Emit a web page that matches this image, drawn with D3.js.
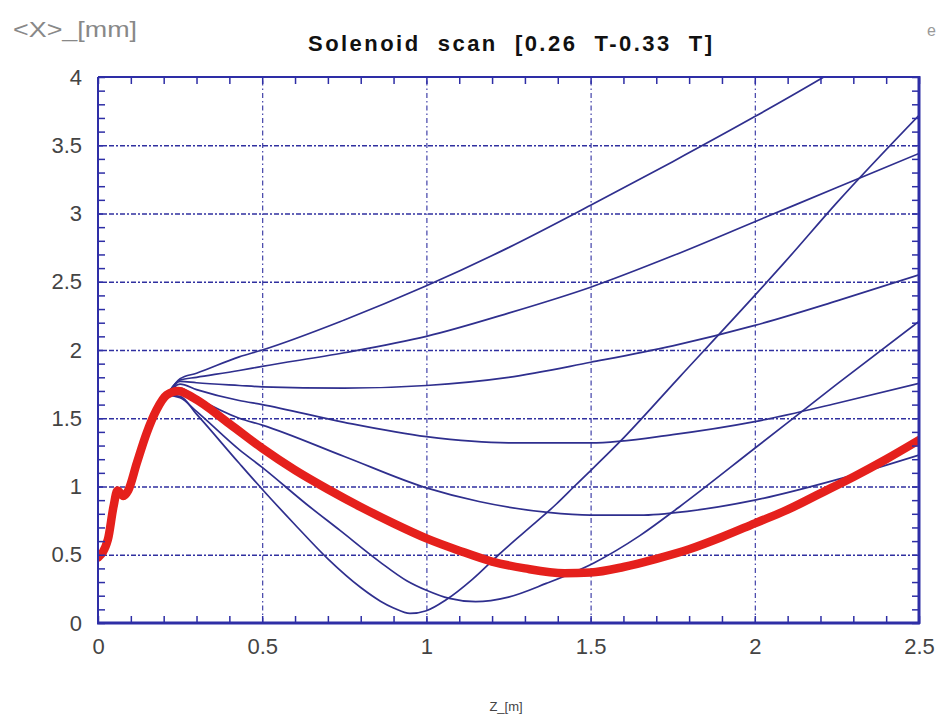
<!DOCTYPE html>
<html>
<head>
<meta charset="utf-8">
<script src="https://cdn.jsdelivr.net/npm/d3@7/dist/d3.min.js"></script>
<style>
  html, body { margin: 0; padding: 0; background: #fff; }
  svg { display: block; }
  text { font-family: "Liberation Sans", Arial, sans-serif; }
</style>
</head>
<body>
<svg id="chart" width="940" height="717"></svg>
<script>
// ---------- data ----------
const xTickLabels = ["0", "0.5", "1", "1.5", "2", "2.5"];
const yTickLabels = ["0", "0.5", "1", "1.5", "2", "2.5", "3", "3.5", "4"];
const xMajor = [0, 0.5, 1, 1.5, 2, 2.5];
const yMajor = [0, 0.5, 1, 1.5, 2, 2.5, 3, 3.5, 4];

// common rise (before the solenoid), shared by all curves
const zRise = [0, 0.03, 0.047, 0.059, 0.077, 0.092, 0.118, 0.148, 0.178, 0.209];
const xRise = [0.48, 0.61, 0.85, 0.97, 0.93, 0.97, 1.17, 1.39, 1.56, 1.67];

// highlighted (red) curve
const zRed = [0.244, 0.29, 0.4, 0.5, 0.6, 0.7, 0.8, 0.9, 1.0, 1.1, 1.2, 1.3, 1.42, 1.5, 1.6, 1.7, 1.8, 1.9, 2.0, 2.1, 2.2, 2.3, 2.4, 2.5];
const xRed = [1.70, 1.65, 1.46, 1.28, 1.12, 0.98, 0.85, 0.73, 0.62, 0.53, 0.45, 0.40, 0.365, 0.37, 0.41, 0.47, 0.54, 0.63, 0.73, 0.83, 0.95, 1.07, 1.20, 1.34];

// blue curves (other solenoid fields)
const zA = [0.25, 0.3, 0.43, 0.5, 0.75, 1, 1.25, 1.5, 1.75, 2, 2.21, 2.3];
const xA = [1.79, 1.83, 1.95, 2.0, 2.22, 2.47, 2.75, 3.06, 3.38, 3.71, 4.0, 4.13];
const zB = [0.25, 0.3, 0.43, 0.5, 0.75, 1, 1.25, 1.5, 1.75, 2, 2.25, 2.5];
const xB = [1.78, 1.8, 1.85, 1.88, 1.98, 2.1, 2.27, 2.46, 2.69, 2.94, 3.19, 3.44];
const zC = [0.25, 0.3, 0.43, 0.5, 0.75, 1, 1.25, 1.5, 1.75, 2, 2.25, 2.5];
const xC = [1.77, 1.76, 1.74, 1.73, 1.72, 1.74, 1.8, 1.91, 2.03, 2.18, 2.36, 2.55];
const zD = [0.25, 0.3, 0.43, 0.5, 0.75, 1, 1.25, 1.5, 1.75, 2, 2.25, 2.5];
const xD = [1.75, 1.71, 1.63, 1.6, 1.47, 1.365, 1.32, 1.32, 1.38, 1.475, 1.61, 1.756];
const zE = [0.25, 0.3, 0.43, 0.5, 0.75, 1, 1.16, 1.37, 1.5, 1.65, 1.8, 2, 2.25, 2.5];
const xE = [1.72, 1.65, 1.5, 1.45, 1.22, 0.99, 0.89, 0.81, 0.79, 0.79, 0.82, 0.9, 1.05, 1.23];
const zF = [0.25, 0.3, 0.43, 0.5, 0.635, 0.736, 0.857, 0.94, 1.0, 1.07, 1.15, 1.25, 1.365, 1.51, 1.65, 1.77, 2.0, 2.25, 2.5];
const xF = [1.65, 1.55, 1.27, 1.14, 0.87, 0.68, 0.45, 0.31, 0.24, 0.18, 0.156, 0.19, 0.29, 0.44, 0.64, 0.85, 1.28, 1.75, 2.21];
const zG = [0.25, 0.3, 0.43, 0.5, 0.6, 0.7, 0.8, 0.86, 0.9, 0.95, 1.0, 1.06, 1.14, 1.22, 1.3, 1.395, 1.45, 1.59, 1.77, 2.0, 2.09, 2.25, 2.5];
const xG = [1.66, 1.53, 1.17, 0.98, 0.72, 0.47, 0.26, 0.16, 0.11, 0.07, 0.09, 0.17, 0.32, 0.5, 0.67, 0.87, 1.0, 1.33, 1.8, 2.4, 2.64, 3.08, 3.72];

const titleText = "Solenoid  scan  [0.26  T-0.33  T]";
const yAxisTitle = "<X>_[mm]";
const xAxisTitle = "Z_[m]";

// ---------- build ----------
const zip = (zs, xs) => zs.map((z, i) => ({ z: z, v: xs[i] }));
const withRise = (zs, xs) => zip(zRise, xRise).concat(zip(zs, xs));
const blueSeries = [[zA, xA], [zB, xB], [zC, xC], [zD, xD], [zE, xE], [zF, xF], [zG, xG]].map(p => withRise(p[0], p[1]));
const redSeries = withRise(zRed, xRed);

const svg = d3.select("#chart");
const L = 98, R = 919, T = 77, B = 623;
const x = d3.scaleLinear().domain([0, 2.5]).range([L, R]);
const y = d3.scaleLinear().domain([0, 4]).range([B, T]);

const frameCol = "#2e2ea6";
const gridCol = "#3030a0";
const blueCol = "#2f2f8e";
const redCol = "#e5201c";

svg.append("defs").append("clipPath").attr("id", "plotClip")
  .append("rect").attr("x", L).attr("y", T).attr("width", R - L).attr("height", B - T);

// grid lines (dash-dot)
const gy = svg.append("g").attr("transform", `translate(${L},0)`)
  .call(d3.axisLeft(y).tickValues(yMajor.slice(1, -1)).tickSize(-(R - L)).tickFormat(""));
gy.select(".domain").remove();
gy.selectAll("line").attr("stroke", gridCol).attr("stroke-width", 1.6).attr("stroke-dasharray", "5,2,2,2");
const gx = svg.append("g").attr("transform", `translate(0,${B})`)
  .call(d3.axisBottom(x).tickValues(xMajor.slice(1, -1)).tickSize(-(B - T)).tickFormat(""));
gx.select(".domain").remove();
gx.selectAll("line").attr("stroke", gridCol).attr("stroke-width", 1.1).attr("stroke-dasharray", "5,3,1.5,3");

// curves
const line = d3.line().x(d => x(d.z)).y(d => y(d.v)).curve(d3.curveMonotoneX);
const plot = svg.append("g").attr("clip-path", "url(#plotClip)");
plot.selectAll("path.blue").data(blueSeries).join("path")
  .attr("class", "blue").attr("d", line)
  .attr("fill", "none").attr("stroke", blueCol).attr("stroke-width", 1.7);
plot.append("path").datum(redSeries).attr("d", line)
  .attr("fill", "none").attr("stroke", redCol).attr("stroke-width", 8.5)
  .attr("stroke-linejoin", "round").attr("stroke-linecap", "round");

// minor/major ticks on all four sides (inward)
const minorX = d3.range(0, 26).map(i => i / 10);
const minorY = d3.range(0, 41).map(i => i / 10);
function styleTicks(g) {
  g.select(".domain").remove();
  g.selectAll("line").attr("stroke", frameCol).attr("stroke-width", 1.5);
}
svg.append("g").attr("transform", `translate(0,${B})`)
  .call(d3.axisBottom(x).tickValues(minorX).tickSize(-7).tickFormat("")).call(styleTicks);
svg.append("g").attr("transform", `translate(0,${T})`)
  .call(d3.axisTop(x).tickValues(minorX).tickSize(-7).tickFormat("")).call(styleTicks);
svg.append("g").attr("transform", `translate(${L},0)`)
  .call(d3.axisLeft(y).tickValues(minorY).tickSize(-7).tickFormat("")).call(styleTicks);
svg.append("g").attr("transform", `translate(${R},0)`)
  .call(d3.axisRight(y).tickValues(minorY).tickSize(-7).tickFormat("")).call(styleTicks);

// frame
svg.append("line").attr("x1", L).attr("x2", R).attr("y1", T).attr("y2", T).attr("stroke", frameCol).attr("stroke-width", 2);
svg.append("line").attr("x1", L).attr("x2", L).attr("y1", T).attr("y2", B).attr("stroke", frameCol).attr("stroke-width", 2);
svg.append("line").attr("x1", R).attr("x2", R).attr("y1", T - 1).attr("y2", B + 1).attr("stroke", frameCol).attr("stroke-width", 3);
svg.append("line").attr("x1", L - 1).attr("x2", R + 1).attr("y1", B).attr("y2", B).attr("stroke", frameCol).attr("stroke-width", 3);

// tick labels
const xl = svg.append("g").attr("transform", `translate(0,${B})`)
  .call(d3.axisBottom(x).tickValues(xMajor).tickSize(0).tickPadding(15).tickFormat((d, i) => xTickLabels[i]));
xl.select(".domain").remove();
xl.selectAll("text").attr("font-size", 22).attr("fill", "#444").attr("font-family", "Liberation Sans, Arial, sans-serif");
const yl = svg.append("g").attr("transform", `translate(${L},0)`)
  .call(d3.axisLeft(y).tickValues(yMajor).tickSize(0).tickPadding(16).tickFormat((d, i) => yTickLabels[i]));
yl.select(".domain").remove();
yl.selectAll("text").attr("font-size", 22).attr("fill", "#444").attr("font-family", "Liberation Sans, Arial, sans-serif");

// titles
svg.append("text").attr("x", 510).attr("y", 51).attr("text-anchor", "middle")
  .style("white-space", "pre")
  .attr("font-size", 22).attr("font-weight", "bold").attr("fill", "#111")
  .attr("textLength", 404).attr("lengthAdjust", "spacing").text(titleText);
svg.append("text").attr("x", 13).attr("y", 37)
  .attr("font-size", 22).attr("fill", "#888")
  .attr("textLength", 124).attr("lengthAdjust", "spacingAndGlyphs").text(yAxisTitle);
svg.append("text").attr("x", 506).attr("y", 711).attr("text-anchor", "middle")
  .attr("font-size", 13).attr("fill", "#444").text(xAxisTitle);
svg.append("text").attr("x", 927).attr("y", 36)
  .attr("font-size", 16).attr("fill", "#999").text("e");
</script>
</body>
</html>
